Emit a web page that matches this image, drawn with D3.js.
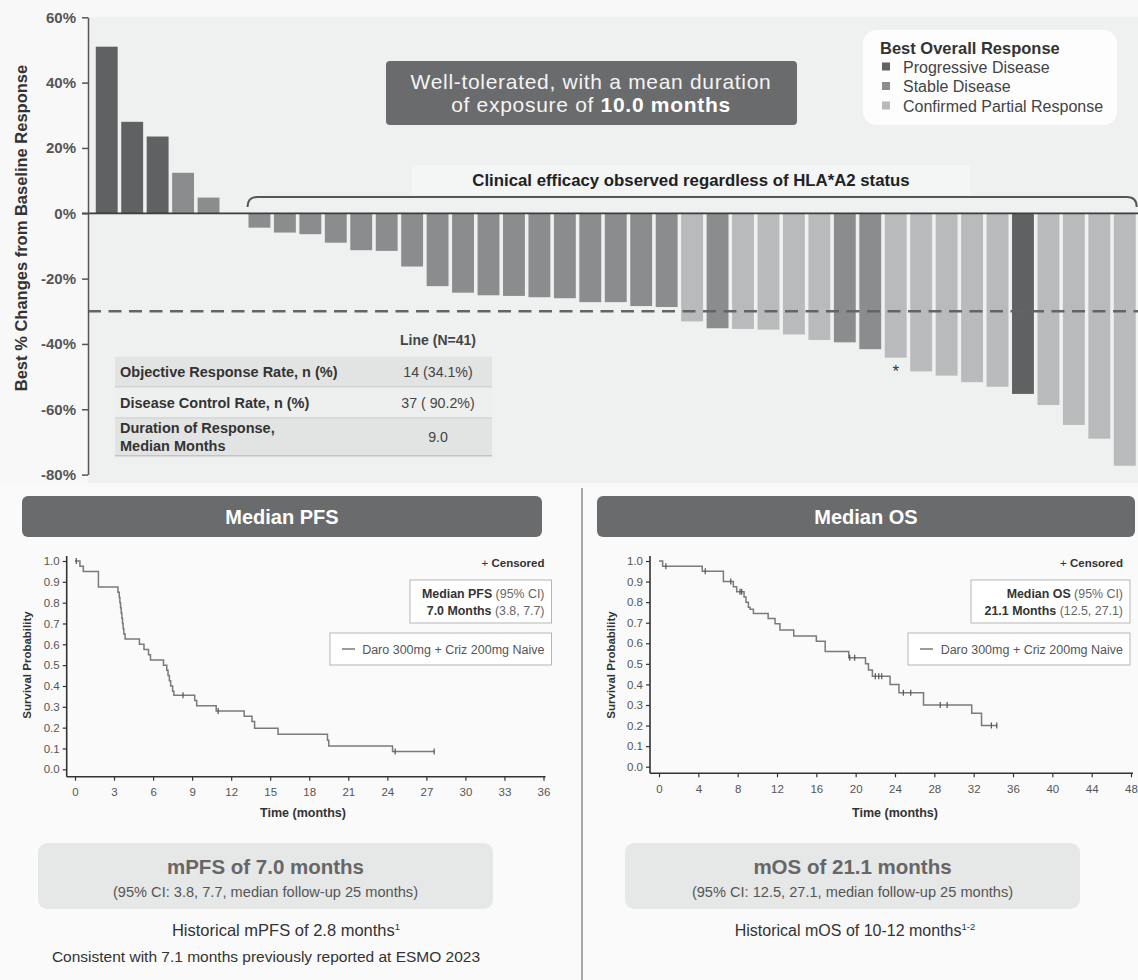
<!DOCTYPE html>
<html>
<head>
<meta charset="utf-8">
<script src="https://cdn.jsdelivr.net/npm/d3@7"></script>
<style>
  body { margin: 0; background: #fafafa; }
  svg { display: block; font-family: "Liberation Sans", Arial, sans-serif; }
</style>
</head>
<body>
<svg id="chart" width="1138" height="980"></svg>
<script>
// ---- waterfall data (best % change, sorted) ----
var bestChange = [51.0, 28.0, 23.5, 12.4, 4.8, 0,
  -4.4, -5.9, -6.4, -9.0, -11.3, -11.5,
  -16.3, -22.3, -24.3, -25.1, -25.3, -25.7, -26.0, -27.2, -27.2, -28.4, -28.7,
  -33.1, -35.2, -35.4, -35.6, -37.1, -38.8, -39.5, -41.6,
  -44.2, -48.4, -49.7, -51.7, -53.1, -55.3, -58.7, -64.8, -69.0, -77.3];
var bestResponse = ['PD','PD','PD','SD','SD','SD',
  'SD','SD','SD','SD','SD','SD',
  'SD','SD','SD','SD','SD','SD','SD','SD','SD','SD','SD',
  'PR','SD','PR','PR','PR','PR','SD','SD',
  'PR','PR','PR','PR','PR','PD','PR','PR','PR','PR'];
var patientIds = bestChange.map(function(d, i) { return 'pt' + (i + 1); });
var starredPatient = 'pt32';

var responseKeys = ['PD', 'SD', 'PR'];
var responseLabels = ['Progressive Disease', 'Stable Disease', 'Confirmed Partial Response'];
var responseColors = ['#606163', '#8b8c8e', '#b9babc'];

var yTicks = [-80, -60, -40, -20, 0, 20, 40, 60];
var threshold = -30;

var tableLabels = [['Objective Response Rate, n (%)'], ['Disease Control Rate, n (%)'], ['Duration of Response,', 'Median Months']];
var tableValues = ['14 (34.1%)', '37 ( 90.2%)', '9.0'];

// ---- Kaplan-Meier data: [time (months), survival after event] ----
var pfsSteps = [[0, 1.0], [0.38, 0.975], [0.64, 0.95], [1.8, 0.875], [3.3, 0.85], [3.4, 0.825],
  [3.45, 0.8], [3.5, 0.775], [3.55, 0.75], [3.6, 0.725], [3.65, 0.7], [3.7, 0.675], [3.75, 0.65],
  [3.85, 0.625], [4.95, 0.6], [5.3, 0.575], [5.65, 0.55], [5.8, 0.525], [6.8, 0.5], [7.05, 0.475],
  [7.15, 0.45], [7.25, 0.425], [7.35, 0.4], [7.5, 0.375], [7.6, 0.355], [9.2, 0.33], [9.35, 0.305],
  [10.85, 0.28], [13.0, 0.255], [13.6, 0.23], [13.8, 0.197], [15.6, 0.168], [19.4, 0.14],
  [19.5, 0.112], [24.4, 0.085]];
var pfsEnd = 27.6;
var pfsCensor = [0.1, 8.3, 11.0, 24.6, 27.6];

var osSteps = [[0, 1.0], [0.37, 0.975], [4.4, 0.95], [6.55, 0.9], [7.56, 0.875], [7.9, 0.85],
  [8.65, 0.825], [8.85, 0.8], [9.09, 0.775], [9.26, 0.765], [9.6, 0.745], [11.1, 0.72],
  [11.8, 0.695], [12.3, 0.665], [13.7, 0.635], [16.0, 0.61], [16.9, 0.56], [19.3, 0.53],
  [21.0, 0.5], [21.3, 0.47], [21.7, 0.44], [23.5, 0.40], [24.4, 0.36], [26.9, 0.30],
  [31.8, 0.26], [32.8, 0.20]];
var osEnd = 34.4;
var osCensor = [0.7, 4.7, 7.3, 8.24, 8.41, 19.4, 19.9, 22.0, 22.35, 22.65, 24.85, 25.6, 28.6, 29.3, 33.8, 34.35];

var survTicks = d3.range(0, 11).map(function(d) { return d / 10; });

var svg = d3.select('#chart');
var font = '"Liberation Sans", Arial, sans-serif';

// ================= WATERFALL =================
var wfX = d3.scaleBand().domain(patientIds).range([94, 1137.5]).paddingInner(0.14).paddingOuter(0.07);
var wfY = d3.scaleLinear().domain([-80, 60]).range([474.6, 17.3]);
var respColor = d3.scaleOrdinal().domain(responseKeys).range(responseColors);

svg.append('rect').attr('x', 0).attr('y', 0).attr('width', 1138).attr('height', 486).attr('fill', '#f8f8f8');
svg.append('rect').attr('x', 88).attr('y', 17).attr('width', 1050).attr('height', 466).attr('fill', '#eff0f0');

// light band behind efficacy text
svg.append('rect').attr('x', 412).attr('y', 165).attr('width', 558).attr('height', 30).attr('fill', '#f4f5f5');

var bars = patientIds.map(function(id, i) { return { id: id, v: bestChange[i], r: bestResponse[i] }; });

svg.append('g').selectAll('rect')
  .data(bars)
  .join('rect')
    .attr('x', function(d) { return wfX(d.id); })
    .attr('y', function(d) { return d.v >= 0 ? wfY(d.v) : wfY(0); })
    .attr('width', wfX.bandwidth())
    .attr('height', function(d) { return Math.abs(wfY(d.v) - wfY(0)); })
    .attr('fill', function(d) { return respColor(d.r); });

// threshold dashed line
svg.append('line')
  .attr('x1', 88).attr('x2', 1138)
  .attr('y1', wfY(threshold)).attr('y2', wfY(threshold))
  .attr('stroke', '#636466').attr('stroke-width', 2.5).attr('stroke-dasharray', '13,7.5');

// zero line
svg.append('line')
  .attr('x1', 82).attr('x2', 1138)
  .attr('y1', wfY(0)).attr('y2', wfY(0))
  .attr('stroke', '#3c3c3c').attr('stroke-width', 1.8);

var yAxis = svg.append('g')
  .attr('transform', 'translate(88,0)')
  .call(d3.axisLeft(wfY).tickValues(yTicks).tickFormat(function(d) { return d + '%'; }).tickSize(6).tickSizeOuter(0));
yAxis.select('.domain').attr('stroke', '#555').attr('stroke-width', 1.5);
yAxis.selectAll('.tick line').attr('stroke', '#555').attr('stroke-width', 1.5);
yAxis.selectAll('text')
  .attr('font-family', font).attr('font-size', 15).attr('font-weight', 'bold')
  .attr('fill', '#555').attr('dx', -3);

svg.append('text')
  .attr('transform', 'translate(27,' + 228 + ') rotate(-90)')
  .attr('text-anchor', 'middle')
  .attr('font-size', 16.5).attr('font-weight', 'bold').attr('fill', '#333')
  .text('Best % Changes from Baseline Response');

// asterisk
svg.append('text')
  .attr('x', wfX(starredPatient) + wfX.bandwidth() / 2)
  .attr('y', wfY(bestChange[patientIds.indexOf(starredPatient)]) + 19)
  .attr('text-anchor', 'middle').attr('font-size', 17).attr('fill', '#333')
  .text('*');

// bracket over negative bars
var bx0 = wfX(patientIds[6]) - 1, bx1 = wfX(patientIds[40]) + wfX.bandwidth() + 1;
svg.append('path')
  .attr('d', 'M' + bx0 + ',207 Q' + bx0 + ',197 ' + (bx0 + 10) + ',197 H' + (bx1 - 10) + ' Q' + bx1 + ',197 ' + bx1 + ',207')
  .attr('fill', 'none').attr('stroke', '#555').attr('stroke-width', 2);

svg.append('text')
  .attr('x', 691).attr('y', 186)
  .attr('text-anchor', 'middle')
  .attr('font-size', 16.8).attr('font-weight', 'bold').attr('fill', '#222')
  .text('Clinical efficacy observed regardless of HLA*A2 status');

// callout box
svg.append('rect').attr('x', 386).attr('y', 61).attr('width', 411).attr('height', 64).attr('rx', 4).attr('fill', '#6a6b6d');
svg.append('text').attr('x', 591).attr('y', 89).attr('text-anchor', 'middle')
  .attr('font-size', 21).attr('letter-spacing', 0.7).attr('fill', '#f4f4f4')
  .text('Well-tolerated, with a mean duration');
var cl2 = svg.append('text').attr('x', 591).attr('y', 111.5).attr('text-anchor', 'middle')
  .attr('font-size', 21).attr('letter-spacing', 0.7).attr('fill', '#f4f4f4');
cl2.append('tspan').text('of exposure of ');
cl2.append('tspan').attr('font-weight', 'bold').attr('fill', '#fff').text('10.0 months');

// legend
var lg = svg.append('g').attr('transform', 'translate(863,30)');
lg.append('rect').attr('width', 254).attr('height', 95).attr('rx', 14).attr('fill', '#fdfdfd');
lg.append('text').attr('x', 17).attr('y', 23.5).attr('font-size', 16.5).attr('font-weight', 'bold').attr('fill', '#333')
  .text('Best Overall Response');
var li = lg.selectAll('g.item').data(responseKeys).join('g')
  .attr('transform', function(d, i) { return 'translate(19,' + (37 + i * 19.5) + ')'; });
li.append('rect').attr('x', 0).attr('y', -4.5).attr('width', 8).attr('height', 8)
  .attr('fill', function(d) { return respColor(d); });
li.append('text').attr('x', 21).attr('y', 5.5).attr('font-size', 16).attr('fill', '#444')
  .text(function(d, i) { return responseLabels[i]; });

// summary table
var tb = svg.append('g');
var rowTops = [356.7, 387.3, 418.3], rowBots = [387.3, 418.3, 455.7];
tb.append('text').attr('x', 438).attr('y', 345).attr('text-anchor', 'middle')
  .attr('font-size', 14).attr('font-weight', 'bold').attr('fill', '#444').text('Line (N=41)');
tableLabels.forEach(function(lbl, i) {
  tb.append('rect').attr('x', 115).attr('y', rowTops[i]).attr('width', 377).attr('height', rowBots[i] - rowTops[i])
    .attr('fill', i === 1 ? '#eef0ef' : '#e2e3e3');
  tb.append('line').attr('x1', 115).attr('x2', 492).attr('y1', rowBots[i]).attr('y2', rowBots[i])
    .attr('stroke', '#c2c3c3').attr('stroke-width', 1.5);
  var mid = (rowTops[i] + rowBots[i]) / 2;
  lbl.forEach(function(t, j) {
    tb.append('text').attr('x', 120).attr('y', mid + 5 + (j - (lbl.length - 1) / 2) * 17.5)
      .attr('font-size', 14.5).attr('font-weight', 'bold').attr('fill', '#333').text(t);
  });
  tb.append('text').attr('x', 438).attr('y', mid + 5).attr('text-anchor', 'middle')
    .attr('font-size', 14.2).attr('fill', '#444').text(tableValues[i]);
});

// ================= KM PANELS =================
svg.append('line').attr('x1', 582).attr('x2', 582).attr('y1', 488).attr('y2', 980)
  .attr('stroke', '#8c8c8c').attr('stroke-width', 1.5);

function survAt(steps, t) {
  var s = steps[0][1];
  steps.forEach(function(p) { if (p[0] <= t) s = p[1]; });
  return s;
}

function drawKM(o) {
  var g = svg.append('g');
  // header
  g.append('rect').attr('x', o.hx0).attr('y', 496).attr('width', o.hx1 - o.hx0).attr('height', 41).attr('rx', 6).attr('fill', '#6a6b6d');
  g.append('text').attr('x', (o.hx0 + o.hx1) / 2).attr('y', 524).attr('text-anchor', 'middle')
    .attr('font-size', 20).attr('font-weight', 'bold').attr('fill', '#fff').text(o.title);

  var x = d3.scaleLinear().domain([0, o.xmax]).range([o.x0, o.x1]);
  var y = d3.scaleLinear().domain([0, 1]).range([o.y0, o.y1]);

  var ya = g.append('g').attr('transform', 'translate(' + o.axX + ',0)')
    .call(d3.axisLeft(y).tickValues(survTicks).tickFormat(d3.format('.1f')).tickSize(4).tickSizeOuter(0));
  ya.select('.domain').attr('d', 'M0,' + (o.y1 - 5) + 'V' + o.axY);
  var xa = g.append('g').attr('transform', 'translate(0,' + o.axY + ')')
    .call(d3.axisBottom(x).tickValues(d3.range(0, o.xmax + 1, o.xstep)).tickSize(4).tickSizeOuter(0));
  xa.select('.domain').attr('d', 'M' + o.axX + ',0H' + (o.x1 + 2));
  [ya, xa].forEach(function(a) {
    a.select('.domain').attr('stroke', '#333').attr('stroke-width', 1.6);
    a.selectAll('.tick line').attr('stroke', '#333').attr('stroke-width', 1.2);
    a.selectAll('text').attr('font-family', font).attr('font-size', 11.5).attr('fill', '#555');
  });
  xa.selectAll('text').attr('dy', '1.1em');

  g.append('text').attr('transform', 'translate(' + o.ylabX + ',665) rotate(-90)').attr('text-anchor', 'middle')
    .attr('font-size', 11.5).attr('font-weight', 'bold').attr('fill', '#333').text('Survival Probability');
  g.append('text').attr('x', o.xlabX).attr('y', 817).attr('text-anchor', 'middle')
    .attr('font-size', 12.5).attr('font-weight', 'bold').attr('fill', '#333').text('Time (months)');

  var pts = o.steps.concat([[o.end, o.steps[o.steps.length - 1][1]]]);
  g.append('path').datum(pts)
    .attr('d', d3.line().x(function(d) { return x(d[0]); }).y(function(d) { return y(d[1]); }).curve(d3.curveStepAfter))
    .attr('fill', 'none').attr('stroke', '#7a7a7a').attr('stroke-width', 1.5);
  g.selectAll('line.cens').data(o.censor).join('line')
    .attr('x1', function(d) { return x(d); }).attr('x2', function(d) { return x(d); })
    .attr('y1', function(d) { return y(survAt(o.steps, d)) - 3; })
    .attr('y2', function(d) { return y(survAt(o.steps, d)) + 3; })
    .attr('stroke', '#555').attr('stroke-width', 1.2);

  // legend texts
  var c = g.append('text').attr('x', o.rx).attr('y', 567).attr('text-anchor', 'end')
    .attr('font-size', 11.5).attr('fill', '#333');
  c.append('tspan').text('+ ');
  c.append('tspan').attr('font-weight', 'bold').text('Censored');

  g.append('rect').attr('x', o.mbx).attr('y', 580).attr('width', o.rx + 7 - o.mbx).attr('height', 43)
    .attr('fill', '#fff').attr('stroke', '#b5b5b5');
  var m1 = g.append('text').attr('x', o.rx).attr('y', 598).attr('text-anchor', 'end').attr('font-size', 12.4);
  m1.append('tspan').attr('font-weight', 'bold').attr('fill', '#333').text(o.medLabel);
  m1.append('tspan').attr('fill', '#666').text(' (95% CI)');
  var m2 = g.append('text').attr('x', o.rx).attr('y', 615).attr('text-anchor', 'end').attr('font-size', 12.4);
  m2.append('tspan').attr('font-weight', 'bold').attr('fill', '#333').text(o.medValue);
  m2.append('tspan').attr('fill', '#666').text(' ' + o.medCI);

  g.append('rect').attr('x', o.lbx).attr('y', 633).attr('width', o.rx + 7 - o.lbx).attr('height', 32)
    .attr('fill', '#fff').attr('stroke', '#b5b5b5');
  g.append('line').attr('x1', o.lbx + 12).attr('x2', o.lbx + 25).attr('y1', 649).attr('y2', 649)
    .attr('stroke', '#7a7a7a').attr('stroke-width', 1.5);
  g.append('text').attr('x', o.rx).attr('y', 653.5).attr('text-anchor', 'end')
    .attr('font-size', 12.5).attr('fill', '#555').text('Daro 300mg + Criz 200mg Naive');

  // summary box
  g.append('rect').attr('x', o.sx0).attr('y', 843).attr('width', o.sx1 - o.sx0).attr('height', 66).attr('rx', 9).attr('fill', '#e6e7e7');
  var cx = (o.sx0 + o.sx1) / 2;
  g.append('text').attr('x', cx).attr('y', 874).attr('text-anchor', 'middle')
    .attr('font-size', 20.5).attr('font-weight', 'bold').attr('fill', '#666').text(o.sumTitle);
  g.append('text').attr('x', cx).attr('y', 897).attr('text-anchor', 'middle')
    .attr('font-size', 14.6).attr('fill', '#555').text(o.sumSub);
  o.notes.forEach(function(n, i) {
    var t = g.append('text').attr('x', n.cx).attr('y', 935.5 + i * 26).attr('text-anchor', 'middle')
      .attr('font-size', n.size).attr('fill', '#333');
    t.append('tspan').text(n.text);
    if (n.sup) t.append('tspan').attr('font-size', 9.5).attr('dy', -6).text(n.sup);
  });
}

drawKM({
  title: 'Median PFS', hx0: 22, hx1: 542,
  xmax: 36, xstep: 3, x0: 75, x1: 543.5, y0: 769.3, y1: 561, axX: 66.7, axY: 776.7,
  ylabX: 31, xlabX: 303,
  steps: pfsSteps, end: pfsEnd, censor: pfsCensor,
  rx: 544.5, mbx: 410, lbx: 330,
  medLabel: 'Median PFS', medValue: '7.0 Months', medCI: '(3.8, 7.7)',
  sx0: 38, sx1: 493,
  sumTitle: 'mPFS of 7.0 months', sumSub: '(95% CI: 3.8, 7.7, median follow-up 25 months)',
  notes: [{ cx: 286, size: 16.5, text: 'Historical mPFS of 2.8 months', sup: '1' },
          { cx: 266, size: 15.5, text: 'Consistent with 7.1 months previously reported at ESMO 2023' }]
});

drawKM({
  title: 'Median OS', hx0: 597, hx1: 1135,
  xmax: 48, xstep: 4, x0: 659, x1: 1131, y0: 766.7, y1: 561, axX: 650, axY: 773.3,
  ylabX: 615, xlabX: 895,
  steps: osSteps, end: osEnd, censor: osCensor,
  rx: 1123, mbx: 971, lbx: 908,
  medLabel: 'Median OS', medValue: '21.1 Months', medCI: '(12.5, 27.1)',
  sx0: 625, sx1: 1080,
  sumTitle: 'mOS of 21.1 months', sumSub: '(95% CI: 12.5, 27.1, median follow-up 25 months)',
  notes: [{ cx: 855, size: 16, text: 'Historical mOS of 10-12 months', sup: '1-2' }]
});
</script>
</body>
</html>
